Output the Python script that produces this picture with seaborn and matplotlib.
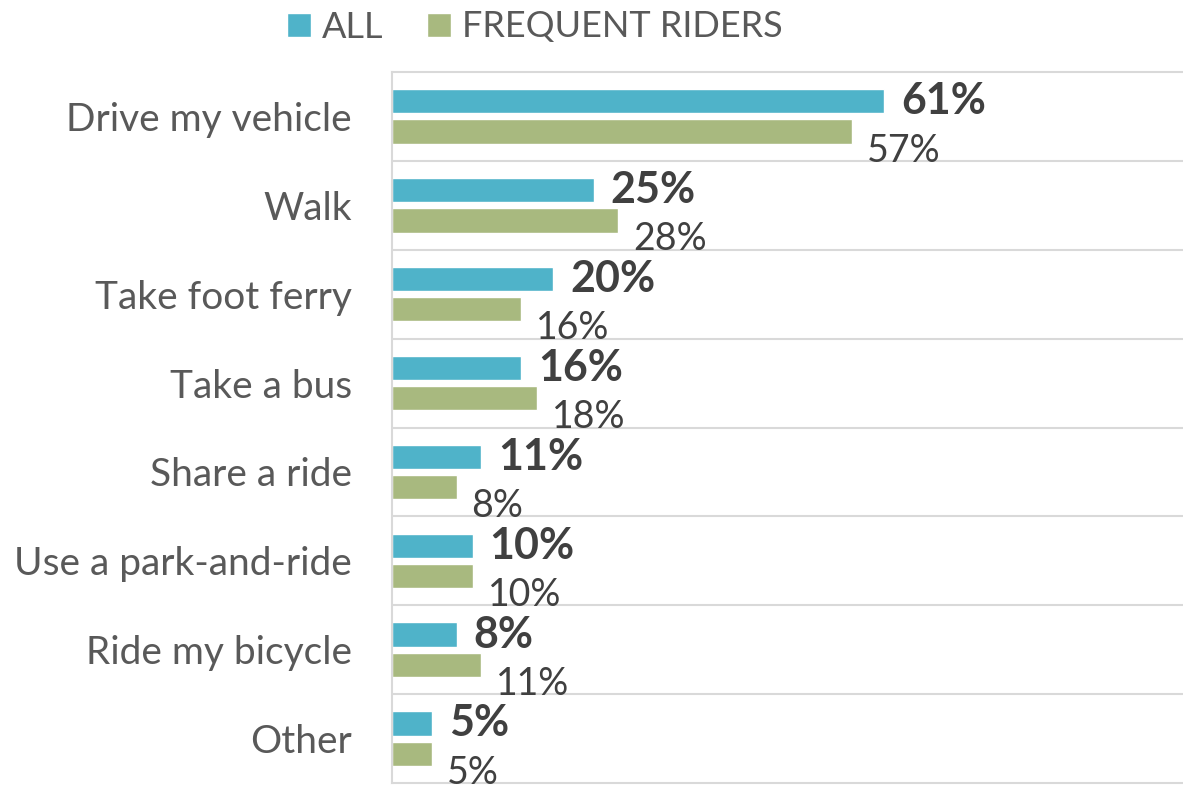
import numpy as np
import pandas as pd
import seaborn as sns
import matplotlib.pyplot as plt

categories = ['Drive my vehicle', 'Walk', 'Take foot ferry', 'Take a bus',
              'Share a ride', 'Use a park-and-ride', 'Ride my bicycle', 'Other']
all_pct = [61, 25, 20, 16, 11, 10, 8, 5]
frequent_pct = [57, 28, 16, 18, 8, 10, 11, 5]
series = ['ALL', 'FREQUENT RIDERS']
colors = ['#4FB3C9', '#A8B97F']

df = pd.DataFrame({
    'mode': categories * 2,
    'pct': all_pct + frequent_pct,
    'group': [series[0]] * len(categories) + [series[1]] * len(categories),
})

sns.set_theme(style='white')
plt.rcParams['font.family'] = ['Lato', 'DejaVu Sans']

W, H = 1183, 790
fig = plt.figure(figsize=(W / 100, H / 100), dpi=100)
ax = fig.add_axes([392 / W, 7 / H, 807 / W, 711 / H])

sns.barplot(data=df, y='mode', x='pct', hue='group', orient='h',
            palette=colors, saturation=1, width=0.68, gap=0.2, ax=ax)

ax.set_xlim(0, 100)
ax.set_ylim(7.5, -0.5)
ax.set_xlabel('')
ax.set_ylabel('')
ax.set_xticks([])

# gridlines between the categories
ax.set_yticks(np.arange(0.5, 7, 1), minor=True)
ax.grid(which='minor', axis='y', color='#D9D9D9', lw=1.5)
ax.tick_params(which='both', length=0)
ax.tick_params(axis='y', which='major', pad=29, labelsize=28, labelcolor='#595959')
for side in ['left', 'top', 'bottom']:
    ax.spines[side].set_color('#D9D9D9')
    ax.spines[side].set_linewidth(1.5)
ax.spines['right'].set_visible(False)

# data labels
for i, cont in enumerate(ax.containers):
    for bar in cont:
        val = bar.get_width()
        yc = bar.get_y() + bar.get_height() / 2
        if i == 0:
            ax.annotate(f'{val:.0f}%', (val, yc), xytext=(17, 0), textcoords='offset pixels',
                        ha='left', va='center', fontsize=31, fontweight='bold', color='#404040',
                        annotation_clip=False)
        else:
            ax.annotate(f'{val:.0f}%', (val, yc), xytext=(15, -19), textcoords='offset pixels',
                        ha='left', va='center', fontsize=27, color='#404040',
                        annotation_clip=False)

leg = ax.get_legend()
handles = leg.legend_handles
labels = [t.get_text() for t in leg.get_texts()]
ax.legend(handles, labels, loc='center', bbox_to_anchor=(535 / W, 1 - 27 / H),
          bbox_transform=fig.transFigure, ncol=2, frameon=False, fontsize=26,
          handlelength=0.67, handleheight=0.67, handletextpad=0.3, columnspacing=1.2,
          labelcolor='#595959')

fig.savefig('out.png', dpi=100)
